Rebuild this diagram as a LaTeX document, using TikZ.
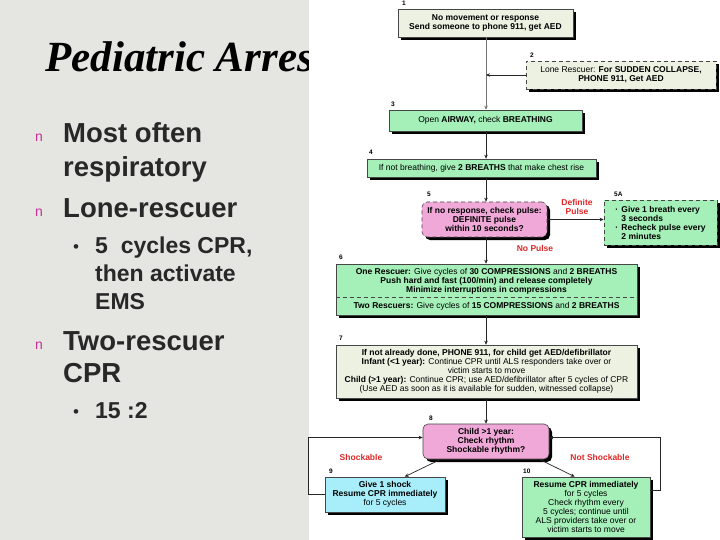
\documentclass[tikz,border=0pt]{standalone}
\usepackage{fontspec}
\setmainfont{Liberation Sans}
\newfontfamily\titlefont{Liberation Serif}
\usetikzlibrary{arrows.meta,shadows,calc}
\definecolor{slidebg}{RGB}{229,229,226}
\definecolor{boxpale}{RGB}{237,241,226}
\definecolor{boxgreen}{RGB}{164,240,184}
\definecolor{boxpink}{RGB}{240,168,216}
\definecolor{boxcyan}{RGB}{168,238,250}
\definecolor{alarmred}{RGB}{222,40,40}
\definecolor{bodytext}{RGB}{40,40,40}
\definecolor{bulletpink}{RGB}{200,50,150}
\definecolor{edgegrey}{RGB}{70,70,70}
\begin{document}
\begin{tikzpicture}[x=1pt,y=-1pt,
  fc/.style={draw=edgegrey, line width=0.6pt, align=center, inner sep=1pt,
    font=\fontsize{8.5}{9}\selectfont,
    general shadow={fill=black, shadow xshift=3pt, shadow yshift=-3pt}},
  palebox/.style={fc, fill=boxpale},
  greenbox/.style={fc, fill=boxgreen},
  pinkbox/.style={fc, fill=boxpink, rounded corners=5pt},
  cyanbox/.style={fc, fill=boxcyan},
  dashbox/.style={dash pattern=on 4pt off 3pt},
  numlbl/.style={anchor=west, inner sep=0, font=\bfseries\fontsize{6.5}{7}\selectfont},
  redlbl/.style={align=center, inner sep=0, text=alarmred, font=\bfseries\fontsize{8.5}{9}\selectfont},
  conn/.style={draw=black!85, line width=0.7pt, -{Stealth[length=4pt,width=3.5pt]}},
  bigtxt/.style={anchor=base west, inner sep=0, text=bodytext, font=\bfseries\fontsize{27.5}{28}\selectfont},
  subtxt/.style={anchor=base west, inner sep=0, text=bodytext, font=\bfseries\fontsize{23}{24}\selectfont},
  dottxt/.style={anchor=base west, inner sep=0, text=bodytext, font=\fontsize{17}{17}\selectfont},
  pinkmark/.style={anchor=base west, inner sep=0, text=bulletpink, font=\fontsize{14}{14}\selectfont}
]
\useasboundingbox (0,0) rectangle (720,540);
% slide background
\fill[slidebg] (0,0) rectangle (720,540);
\begin{scope}
\clip (0,0) rectangle (309,540);
\node[anchor=base west, inner sep=0, font=\titlefont\bfseries\itshape\fontsize{43}{43}\selectfont] (title) at (45,72) {Pediatric Arrest};
\end{scope}
% bullets
\node[pinkmark] (m1) at (35,142) {n};
\node[bigtxt] (t1) at (63,143) {Most often};
\node[bigtxt] (t2) at (63,177) {respiratory};
\node[pinkmark] (m2) at (35,217) {n};
\node[bigtxt] (t3) at (63,218) {Lone-rescuer};
\node[dottxt] (d1) at (73,252) {•};
\node[subtxt] (s1) at (95,253) {5~ cycles CPR,};
\node[subtxt] (s2) at (95,281) {then activate};
\node[subtxt] (s3) at (95,309) {EMS};
\node[pinkmark] (m3) at (35,349) {n};
\node[bigtxt] (t4) at (63,350) {Two-rescuer};
\node[bigtxt] (t5) at (63,382) {CPR};
\node[dottxt] (d2) at (73,417) {•};
\node[subtxt] (s4) at (95,418) {15 :2};
% flowchart panel
\fill[white] (309,0) rectangle (720,540);
\coordinate (trunk) at (486,0);
\node[palebox, minimum width=175pt, minimum height=28pt] (b1) at (485.5,23)
  {\textbf{No movement or response}\\\textbf{Send someone to phone 911, get AED}};
\node[palebox, dashbox, minimum width=190pt, minimum height=28pt] (b2) at (621,75)
  {Lone Rescuer: \textbf{For SUDDEN COLLAPSE,}\\\textbf{PHONE 911, Get AED}};
\node[greenbox, minimum width=193pt, minimum height=21pt] (b3) at (485.5,120.5)
  {Open \textbf{AIRWAY,} check \textbf{BREATHING}};
\node[greenbox, minimum width=229pt, minimum height=18pt] (b4) at (481.5,168)
  {If not breathing, give \textbf{2 BREATHS} that make chest rise};
\node[pinkbox, dashbox, minimum width=125pt, minimum height=35pt] (b5) at (484.5,219.5)
  {\textbf{If no response, check pulse:}\\\textbf{DEFINITE pulse}\\\textbf{within 10 seconds?}};
\node[greenbox, dashbox, align=left, font=\bfseries\fontsize{8.5}{9}\selectfont, minimum width=113pt, minimum height=45pt] (b5a) at (660.5,222.5)
  {\makebox[6pt][l]{·}Give 1 breath every\\\hspace*{6pt}3 seconds\\\makebox[6pt][l]{·}Recheck pulse every\\\hspace*{6pt}2 minutes};
\node[greenbox, minimum width=301pt, minimum height=51pt] (b6) at (486.5,289.5) {};
\draw[edgegrey, line width=0.6pt, dashbox] ([yshift=-34pt]b6.north west) -- ([yshift=-34pt]b6.north east);
\node[align=center, inner sep=0, font=\fontsize{8.5}{9}\selectfont] (b6top) at (486.5,281)
  {\textbf{One Rescuer:} Give cycles of \textbf{30 COMPRESSIONS} and \textbf{2 BREATHS}\\
   \textbf{Push hard and fast (100/min) and release completely}\\
   \textbf{Minimize interruptions in compressions}};
\node[align=center, inner sep=0, font=\fontsize{8.5}{9}\selectfont] (b6bot) at (486.5,306.5)
  {\textbf{Two Rescuers:} Give cycles of \textbf{15 COMPRESSIONS} and \textbf{2 BREATHS}};
\node[palebox, minimum width=301pt, minimum height=53pt] (b7) at (486.5,371.5)
  {\textbf{If not already done, PHONE 911, for child get AED/defibrillator}\\
   \textbf{Infant (<1 year):} Continue CPR until ALS responders take over or\\
   victim starts to move\\
   \textbf{Child (>1 year):} Continue CPR; use AED/defibrillator after 5 cycles of CPR\\
   (Use AED as soon as it is available for sudden, witnessed collapse)};
\node[pinkbox, minimum width=126pt, minimum height=35pt] (b8) at (486,441.5)
  {\textbf{Child >1 year:}\\\textbf{Check rhythm}\\\textbf{Shockable rhythm?}};
\node[cyanbox, minimum width=120pt, minimum height=35pt] (b9) at (385,494.5)
  {\textbf{Give 1 shock}\\\textbf{Resume CPR immediately}\\for 5 cycles};
\node[greenbox, minimum width=128pt, minimum height=60pt] (b10) at (586,507)
  {\textbf{Resume CPR immediately}\\for 5 cycles\\Check rhythm every\\5 cycles; continue until\\ALS providers take over or\\victim starts to move};
% step numbers
\node[numlbl] (n1) at (402,3) {1};
\node[numlbl] (n2) at (530,55) {2};
\node[numlbl] (n3) at (391,104) {3};
\node[numlbl] (n4) at (369,152) {4};
\node[numlbl] (n5) at (427,194) {5};
\node[numlbl] (n5a) at (614,194) {5A};
\node[numlbl] (n6) at (339,257) {6};
\node[numlbl] (n7) at (339,338) {7};
\node[numlbl] (n8) at (429,418) {8};
\node[numlbl] (n9) at (329,471) {9};
\node[numlbl] (n10) at (523,471) {10};
% red labels
\node[redlbl] (lDef) at (577,207) {Definite\\Pulse};
\node[redlbl] (lNo) at (535,248) {No Pulse};
\node[redlbl] (lShock) at (361,457) {Shockable};
\node[redlbl] (lNot) at (600,457) {Not Shockable};
% connectors
\draw[conn, draw=black!55] (b1.south -| trunk) -- (b3.north -| trunk);
\draw[conn] (b2.west) -- (b2.west -| trunk);
\draw[conn] (b3.south -| trunk) -- (b4.north -| trunk);
\draw[conn] (b4.south -| trunk) -- (b5.north -| trunk);
\draw[conn] (b5.east) -- (b5.east -| b5a.west);
\draw[conn] (b5.south -| trunk) -- (b6.north -| trunk);
\draw[conn] (b6.south -| trunk) -- (b7.north -| trunk);
\draw[conn] (b7.south -| trunk) -- (b8.north -| trunk);
\draw[conn] ([xshift=18pt]b8.south west) -- ([xshift=80pt]b9.north west);
\draw[conn] ([xshift=-10pt]b8.south east) -- ([xshift=53pt]b10.north west);
\draw[conn] (b9.west) -- ++(-16,0) |- ([yshift=4pt]b8.west);
\draw[conn] ([yshift=17pt]b10.east) -- ++(10,0) |- ([yshift=4pt]b8.east);
\end{tikzpicture}
\end{document}
